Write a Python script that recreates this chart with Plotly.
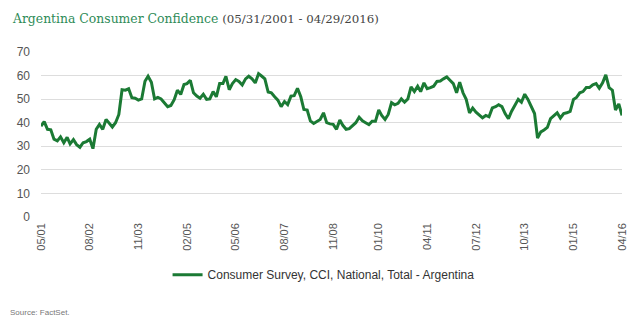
import pandas as pd
import plotly.graph_objects as go

# Monthly Consumer Confidence Index readings, May 2001 through April 2016
cci_values = [
    38.5, 40.5, 37.2, 37.0, 33.0, 32.3, 34.0, 31.5, 33.8, 31.0,
    32.8, 30.7, 29.6, 31.5, 32.0, 33.0, 29.0, 37.2, 39.3, 37.2,
    41.4, 39.7, 38.2, 40.0, 43.5, 54.0, 53.8, 54.4, 50.6, 50.4,
    49.6, 50.1, 57.6, 59.7, 57.2, 50.1, 50.7, 50.1, 48.5, 46.8,
    47.3, 49.8, 53.8, 52.0, 56.2, 56.6, 58.0, 52.7, 51.3, 50.4,
    52.1, 49.9, 50.1, 53.2, 51.0, 56.6, 56.6, 59.7, 54.0, 56.6,
    58.3, 57.5, 56.0, 58.6, 59.7, 58.6, 56.9, 60.8, 59.7, 58.6,
    53.0, 52.7, 51.0, 49.6, 46.8, 49.0, 47.7, 51.3, 51.5, 54.6,
    51.0, 45.6, 45.4, 40.8, 39.7, 40.6, 41.4, 44.2, 40.0, 39.5,
    39.3, 37.2, 41.1, 38.9, 37.2, 37.5, 38.9, 40.0, 42.3, 40.8,
    40.0, 39.2, 40.6, 40.6, 45.4, 43.1, 41.4, 43.5, 48.5, 47.6,
    48.2, 50.1, 48.7, 50.1, 55.2, 53.2, 55.5, 53.2, 56.9, 54.4,
    54.9, 55.5, 57.5, 57.7, 58.6, 59.4, 58.0, 56.6, 52.7, 57.2,
    52.7, 49.9, 44.2, 46.2, 44.5, 43.2, 42.1, 43.1, 42.5, 46.3,
    46.8, 47.6, 46.8, 43.9, 41.7, 44.9, 47.6, 49.9, 48.7, 52.1,
    49.9, 46.8, 43.9, 33.5, 36.1, 36.9, 38.0, 41.7, 43.1, 44.2,
    42.0, 43.9, 44.2, 44.8, 49.9, 50.7, 52.7, 53.2, 54.9, 54.9,
    56.1, 56.6, 54.6, 56.9, 60.3, 54.9, 53.8, 45.4, 48.0, 43.1,
]
dates = pd.date_range("2001-05-31", periods=len(cci_values), freq="ME")

tick_labels = ["05/01", "08/02", "11/03", "02/05", "05/06", "08/07", "11/08",
               "01/10", "04/11", "07/12", "10/13", "01/15", "04/16"]
tick_dates = [pd.to_datetime(t, format="%m/%y") + pd.offsets.MonthEnd(0)
              for t in tick_labels]

series_name = "Consumer Survey, CCI, National, Total - Argentina"
line_color = "#1b7a34"

fig = go.Figure()
fig.add_trace(go.Scatter(
    x=dates, y=cci_values, mode="lines", name=series_name,
    line=dict(color=line_color, width=3),
))

fig.update_layout(
    width=640, height=326,
    margin=dict(l=41, r=13, t=52, b=109),
    paper_bgcolor="white", plot_bgcolor="white",
    font=dict(family="Arial, Liberation Sans, sans-serif", color="#555555", size=11),
    title=dict(
        text=("<span style='color:#2e8b57'>Argentina Consumer Confidence</span>"
              " <span style='color:#444444;font-size:11.8px'>(05/31/2001 - 04/29/2016)</span>"),
        font=dict(family="DejaVu Serif, Georgia, serif", size=12.4),
        xref="container", yref="container",
        x=13 / 640, y=1 - 19 / 326, xanchor="left", yanchor="middle",
    ),
    showlegend=True,
    legend=dict(
        orientation="h", xanchor="center", yanchor="middle",
        x=(326 - 41) / 586, y=-0.35,
        font=dict(size=12, color="#333333"),
        itemwidth=30,
    ),
    xaxis=dict(
        range=[dates[0], dates[-1]],
        tickvals=tick_dates, ticktext=tick_labels,
        tickangle=-90, showgrid=False, zeroline=False, showline=False,
        ticks="", ticklabelstandoff=3,
        tickfont=dict(size=11, color="#555555"),
    ),
    yaxis=dict(
        range=[0, 70], dtick=10, tick0=0,
        showgrid=True, gridcolor="#dddddd", gridwidth=1,
        zeroline=False, showline=False, ticks="",
        ticklabelstandoff=10,
        tickfont=dict(size=12, color="#555555"),
    ),
    annotations=[dict(
        text="Source: FactSet.", xref="paper", yref="paper",
        x=(8 - 41) / 586, y=-(312 - 217) / 164.5,
        xanchor="left", yanchor="middle", showarrow=False,
        font=dict(size=8, color="#777777"),
    )],
)

fig.write_html("out.html")
